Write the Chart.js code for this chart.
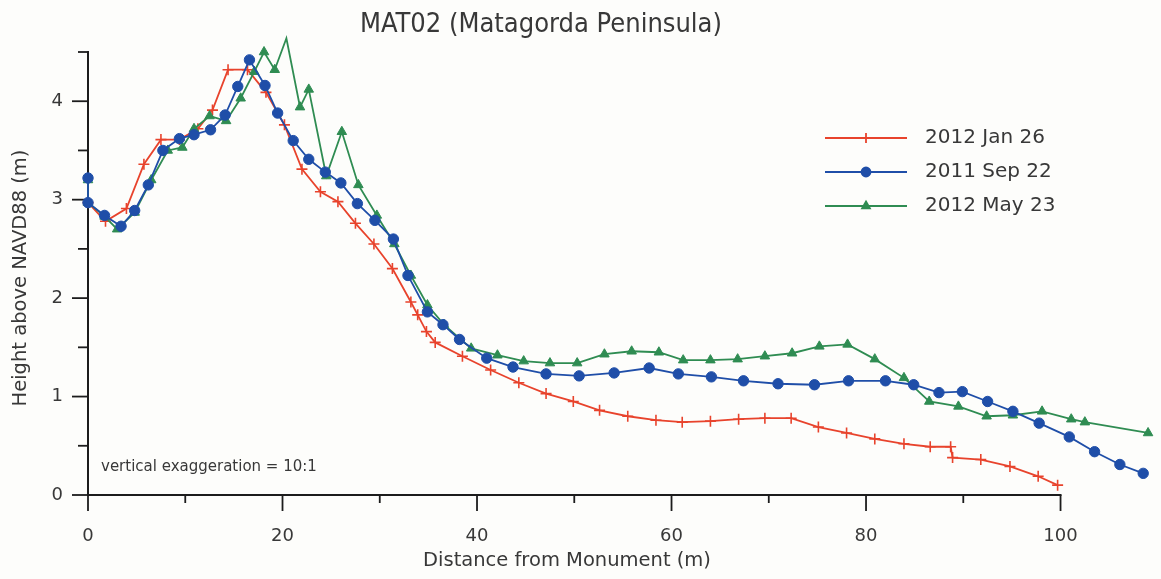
<!DOCTYPE html>
<html><head><meta charset="utf-8">
<script src="https://cdn.jsdelivr.net/npm/chart.js@4.4.1/dist/chart.umd.min.js"></script>
<style>html,body{margin:0;padding:0;background:#fdfdfb;overflow:hidden}</style>
</head><body>
<canvas id="c" width="1161" height="579" style="display:block;width:1161px;height:579px"></canvas>
<script>
const chartTitle = 'MAT02 (Matagorda Peninsula)';
const xAxisTitle = 'Distance from Monument (m)';
const yAxisTitle = 'Height above NAVD88 (m)';
const noteText = 'vertical exaggeration = 10:1';
const seriesLabels = ['2012 Jan 26', '2011 Sep 22', '2012 May 23'];

const janX = [0,1.8,3.95,5.75,7.5,9.4,11.3,12.8,14.4,16.4,18.3,20.2,22.0,23.9,25.7,27.5,29.4,31.3,33.2,33.9,34.8,35.7,38.5,41.4,44.3,47.1,49.9,52.6,55.5,58.4,61.1,64.0,66.9,69.6,72.3,75.1,78.0,80.9,83.9,86.6,88.7,88.9,91.8,94.8,97.7,99.7];
const janY = [2.97,2.78,2.91,3.36,3.61,3.61,3.72,3.91,4.32,4.32,4.09,3.76,3.31,3.08,2.98,2.76,2.55,2.30,1.96,1.83,1.66,1.55,1.41,1.27,1.14,1.03,0.95,0.86,0.80,0.76,0.74,0.75,0.77,0.78,0.78,0.69,0.63,0.57,0.52,0.49,0.49,0.38,0.36,0.29,0.19,0.10];

const sepX = [0,0,1.7,3.4,4.8,6.2,7.7,9.4,10.9,12.6,14.1,15.4,16.6,18.2,19.5,21.1,22.7,24.4,26.0,27.7,29.5,31.4,32.9,34.9,36.5,38.2,41.0,43.7,47.1,50.5,54.1,57.7,60.7,64.1,67.4,70.95,74.7,78.2,82.0,84.9,87.5,89.9,92.5,95.1,97.8,100.9,103.5,106.1,108.5];
const sepY = [3.22,2.97,2.84,2.73,2.89,3.15,3.50,3.62,3.66,3.71,3.86,4.15,4.42,4.16,3.88,3.60,3.41,3.28,3.17,2.96,2.79,2.60,2.23,1.86,1.73,1.58,1.39,1.30,1.23,1.21,1.24,1.29,1.23,1.20,1.16,1.13,1.12,1.16,1.16,1.12,1.04,1.05,0.95,0.85,0.73,0.59,0.44,0.31,0.22];

const mayX = [0,0,1.7,3.0,4.8,6.5,8.2,9.7,10.9,12.5,14.2,15.7,17.1,18.1,19.2,20.4,21.8,22.7,24.5,26.1,27.8,29.7,31.5,33.2,34.9,36.6,39.4,42.1,44.8,47.5,50.3,53.1,55.9,58.7,61.2,64.0,66.8,69.6,72.4,75.2,78.1,80.9,83.9,86.5,89.5,92.4,95.1,98.1,101.1,102.5,109.0];
const mayY = [3.20,2.97,2.83,2.70,2.87,3.20,3.50,3.53,3.72,3.85,3.80,4.03,4.30,4.50,4.32,4.64,3.94,4.12,3.24,3.69,3.15,2.84,2.55,2.23,1.93,1.73,1.49,1.42,1.36,1.34,1.34,1.43,1.46,1.45,1.37,1.37,1.38,1.41,1.44,1.51,1.53,1.38,1.19,0.95,0.90,0.80,0.81,0.85,0.77,0.74,0.63];

const xTickValues = [0,10,20,30,40,50,60,70,80,90,100];
const xTickLabels = ['0','','20','','40','','60','','80','','100'];
const yTickValues = [0,0.5,1,1.5,2,2.5,3,3.5,4,4.5];
const yTickLabels = ['0','','1','','2','','3','','4',''];

const COLORS = ['#e8432c', '#1f4ea8', '#2f8c52'];
const STYLES = ['cross', 'circle', 'triangle'];
const FONT = 'DejaVu Sans';
const TEXT = '#383838';

function pts(xs, ys) { return xs.map((x, i) => ({x: x, y: ys[i]})); }

const decor = {
  id: 'decor',
  beforeDatasetsDraw(chart) {
    const ctx = chart.ctx, xs = chart.scales.x, ys = chart.scales.y;
    const x0 = xs.getPixelForValue(0), y0 = ys.getPixelForValue(0);
    ctx.save();
    ctx.strokeStyle = '#1c1c1c';
    ctx.lineWidth = 2;
    ctx.beginPath();
    ctx.moveTo(x0, ys.getPixelForValue(yTickValues[yTickValues.length-1]) - 1);
    ctx.lineTo(x0, y0);
    ctx.lineTo(xs.getPixelForValue(xTickValues[xTickValues.length-1]) + 1, y0);
    ctx.stroke();
    ctx.lineWidth = 1.8;
    xTickValues.forEach((v, i) => {
      const p = xs.getPixelForValue(v), len = xTickLabels[i] ? 16 : 8;
      ctx.beginPath(); ctx.moveTo(p, y0); ctx.lineTo(p, y0 + len); ctx.stroke();
    });
    yTickValues.forEach((v, i) => {
      const p = ys.getPixelForValue(v), len = yTickLabels[i] ? 16 : 10;
      ctx.beginPath(); ctx.moveTo(x0, p); ctx.lineTo(x0 - len, p); ctx.stroke();
    });
    ctx.restore();
  },
  afterDraw(chart) {
    const ctx = chart.ctx;
    ctx.save();
    ctx.fillStyle = TEXT;
    ctx.font = '27px "DejaVu Sans Condensed", "DejaVu Sans"';
    ctx.textBaseline = 'alphabetic';
    ctx.textAlign = 'center';
    const w = ctx.measureText(chartTitle).width;
    ctx.save();
    ctx.translate(541, 32);
    ctx.scale(362 / w, 1);
    ctx.fillText(chartTitle, 0, 0);
    ctx.restore();
    ctx.font = '19.5px "' + FONT + '"';
    ctx.textBaseline = 'middle';
    ctx.fillText(xAxisTitle, 567, 561);
    ctx.save();
    ctx.translate(21, 278);
    ctx.rotate(-Math.PI / 2);
    ctx.fillText(yAxisTitle, 0, 0);
    ctx.restore();
    ctx.font = '15px "' + FONT + '"';
    ctx.textAlign = 'left';
    ctx.textBaseline = 'alphabetic';
    ctx.fillText(noteText, 101, 471);
    chart.data.datasets.forEach((ds, i) => {
      const y = 138 + 34 * i;
      ctx.strokeStyle = ds.borderColor;
      ctx.lineWidth = 1.8;
      ctx.beginPath(); ctx.moveTo(825, y); ctx.lineTo(907, y); ctx.stroke();
      ctx.fillStyle = ds.pointBackgroundColor;
      ctx.strokeStyle = ds.borderColor;
      Chart.helpers.drawPoint(ctx, {pointStyle: ds.pointStyle, radius: ds.pointStyle === 'cross' ? 5 : 4.5, rotation: 0, borderWidth: ds.pointBorderWidth}, 866, y);
      ctx.fillStyle = TEXT;
      ctx.font = '20px "' + FONT + '"';
      ctx.textBaseline = 'middle';
      ctx.fillText(ds.label, 925, y);
    });
    ctx.restore();
  }
};

function mkDataset(i, xs, ys, order, radius) {
  return {
    label: seriesLabels[i], data: pts(xs, ys), order: order,
    borderColor: COLORS[i], backgroundColor: COLORS[i],
    pointBackgroundColor: COLORS[i], pointBorderColor: COLORS[i],
    pointStyle: STYLES[i], pointRadius: radius, pointBorderWidth: i === 0 ? 1.6 : 1,
    borderWidth: 1.8, tension: 0, clip: false, fill: false
  };
}

new Chart(document.getElementById('c'), {
  type: 'line',
  data: {
    datasets: [
      mkDataset(0, janX, janY, 2, 5.5),
      mkDataset(1, sepX, sepY, 0, 5.2),
      mkDataset(2, mayX, mayY, 1, 5.5)
    ]
  },
  options: {
    responsive: false, animation: false, devicePixelRatio: 1,
    layout: {padding: {top: 52, left: 0, right: 0, bottom: 0}},
    plugins: {legend: {display: false}, title: {display: false}, tooltip: {enabled: false}},
    scales: {
      x: {
        type: 'linear', min: 0, max: 109.6,
        grid: {display: false}, border: {display: false},
        afterBuildTicks: s => { s.ticks = xTickValues.map(v => ({value: v})); },
        afterFit: s => { s.height = 84; },
        ticks: {
          autoSkip: false, maxRotation: 0, padding: 23, color: TEXT,
          font: {family: FONT, size: 18},
          callback: (v) => xTickLabels[xTickValues.indexOf(v)]
        }
      },
      y: {
        min: 0, max: 4.5,
        grid: {display: false}, border: {display: false},
        afterBuildTicks: s => { s.ticks = yTickValues.map(v => ({value: v})); },
        afterFit: s => { s.width = 88; },
        ticks: {
          autoSkip: false, padding: 17, color: TEXT,
          font: {family: FONT, size: 18},
          callback: (v) => yTickLabels[yTickValues.indexOf(v)]
        }
      }
    }
  },
  plugins: [decor]
});
</script>
</body></html>
